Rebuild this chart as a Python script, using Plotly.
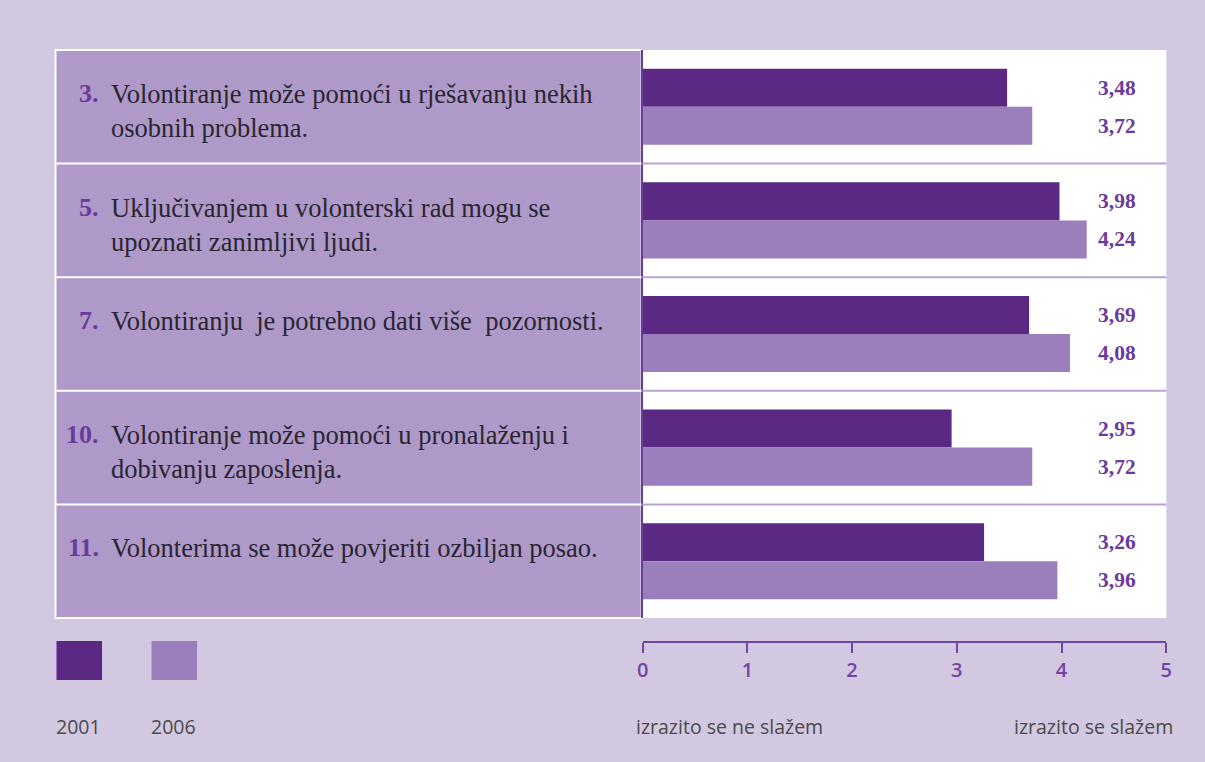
import plotly.graph_objects as go

# ---- data ----
item_numbers = ["3.", "5.", "7.", "10.", "11."]
categories = ["Q3", "Q5", "Q7", "Q10", "Q11"]
statements = [
    "Volontiranje može pomoći u rješavanju nekih<br>osobnih problema.",
    "Uključivanjem u volonterski rad mogu se<br>upoznati zanimljivi ljudi.",
    "Volontiranju\u00a0 je potrebno dati više\u00a0 pozornosti.",
    "Volontiranje može pomoći u pronalaženju i<br>dobivanju zaposlenja.",
    "Volonterima se može povjeriti ozbiljan posao.",
]
values_2001 = [3.48, 3.98, 3.69, 2.95, 3.26]
values_2006 = [3.72, 4.24, 4.08, 3.72, 3.96]
series_names = ["2001", "2006"]
tick_values = [0, 1, 2, 3, 4, 5]
scale_low_label = "izrazito se ne slažem"
scale_high_label = "izrazito se slažem"

# ---- style ----
W, H = 1205, 762
BG = "#d3c8e2"
LEFT_FILL = "#ae99c9"
DARK = "#5b2984"
LIGHT = "#9b7ebc"
PURPLE = "#6b3a9b"
AXIS_PURPLE = "#7444a2"
GRAY = "#4a4a4a"
SERIF = "Liberation Serif"
SANS = "Open Sans"

def px(x):
    return x / W

def py(y):
    return 1 - y / H

panel_left, panel_split, panel_right = 50, 643, 1172
panel_top, panel_bottom = 50, 618
row_h = (panel_bottom - panel_top) / len(categories)

fig = go.Figure()
fig.add_trace(go.Bar(
    y=categories, x=values_2001, orientation="h", name=series_names[0],
    marker=dict(color=DARK, line=dict(width=0)), hoverinfo="x",
))
fig.add_trace(go.Bar(
    y=categories, x=values_2006, orientation="h", name=series_names[1],
    marker=dict(color=LIGHT, line=dict(width=0)), hoverinfo="x",
))

shapes = []
shapes.append(dict(type="rect", xref="paper", yref="paper",
                   x0=px(panel_left), x1=px(panel_split - 1),
                   y0=py(panel_bottom), y1=py(panel_top),
                   fillcolor=LEFT_FILL, line=dict(color="white", width=2), layer="below"))
for i in range(1, len(categories)):
    yy = py(panel_top + i * row_h)
    shapes.append(dict(type="line", xref="paper", yref="paper",
                       x0=px(panel_left), x1=px(panel_split - 1), y0=yy, y1=yy,
                       line=dict(color="white", width=2)))
    shapes.append(dict(type="line", xref="paper", yref="paper",
                       x0=px(panel_split), x1=px(panel_right), y0=yy, y1=yy,
                       line=dict(color="#b7a5cf", width=2)))
for xs, col in [(51, DARK), (147, LIGHT)]:
    shapes.append(dict(type="rect", xref="paper", yref="paper",
                       x0=px(xs), x1=px(xs + 46), y0=py(680), y1=py(641),
                       fillcolor=col, line=dict(width=0)))

annotations = []
for i, (num, txt) in enumerate(zip(item_numbers, statements)):
    top = panel_top + i * row_h + 27
    annotations.append(dict(xref="paper", yref="paper", x=px(96), y=py(top),
                            xanchor="right", yanchor="top", text=num, showarrow=False,
                            font=dict(family=SERIF, size=26, color=PURPLE, weight="bold")))
    annotations.append(dict(xref="paper", yref="paper", x=px(104), y=py(top),
                            xanchor="left", yanchor="top", text=txt, showarrow=False,
                            align="left",
                            font=dict(family=SERIF, size=26.5, color="#2a2530")))
for cat, v1, v2 in zip(categories, values_2001, values_2006):
    for v, shift in [(v1, 19), (v2, -19)]:
        annotations.append(dict(xref="paper", yref="y", x=px(1143), y=cat, yshift=shift,
                                xanchor="right", yanchor="middle",
                                text=f"{v:.2f}".replace(".", ","), showarrow=False,
                                font=dict(family=SERIF, size=21.5, color=PURPLE, weight="bold")))
for xs, name in [(48, series_names[0]), (144, series_names[1])]:
    annotations.append(dict(xref="paper", yref="paper", x=px(xs), y=py(726),
                            xanchor="left", yanchor="middle", text=name, showarrow=False,
                            font=dict(family=SANS, size=19.5, color=GRAY)))
annotations.append(dict(xref="paper", yref="paper", x=px(634), y=py(726),
                        xanchor="left", yanchor="middle", text=scale_low_label, showarrow=False,
                        font=dict(family=SANS, size=19.5, color=GRAY)))
annotations.append(dict(xref="paper", yref="paper", x=px(1181), y=py(726),
                        xanchor="right", yanchor="middle", text=scale_high_label, showarrow=False,
                        font=dict(family=SANS, size=19.5, color=GRAY)))

fig.update_layout(
    width=W, height=H, autosize=False,
    margin=dict(l=0, r=0, t=0, b=0, pad=0),
    paper_bgcolor=BG, plot_bgcolor="white",
    barmode="group", bargap=0.33, bargroupgap=0,
    showlegend=False,
    shapes=shapes, annotations=annotations,
    xaxis=dict(domain=[px(panel_split), px(panel_right)], range=[0, 5], fixedrange=True,
               anchor="free", position=py(642), side="bottom",
               showgrid=False, zeroline=False,
               showline=True, linecolor=AXIS_PURPLE, linewidth=2,
               ticks="outside", ticklen=10, tickwidth=2, tickcolor=AXIS_PURPLE,
               tickvals=tick_values, ticktext=[str(t) for t in tick_values],
               tickfont=dict(family=SANS, size=20, color=AXIS_PURPLE, weight=600)),
    yaxis=dict(domain=[py(panel_bottom), py(panel_top)], type="category",
               categoryorder="array", categoryarray=categories,
               range=[len(categories) - 0.5, -0.5], fixedrange=True,
               showgrid=False, zeroline=False,
               showticklabels=False, ticks="",
               showline=True, linecolor=PURPLE, linewidth=2),
)

post = ("document.documentElement.style.margin='0';document.body.style.margin='0';"
        "document.body.style.padding='0';document.body.style.overflow='hidden';"
        "var gd=document.getElementById('{plot_id}');"
        "Plotly.relayout(gd,{width:1205,height:762});")

fig.write_html("out.html", config={"responsive": False, "displayModeBar": False},
               default_width="1205px", default_height="762px", post_script=post)
